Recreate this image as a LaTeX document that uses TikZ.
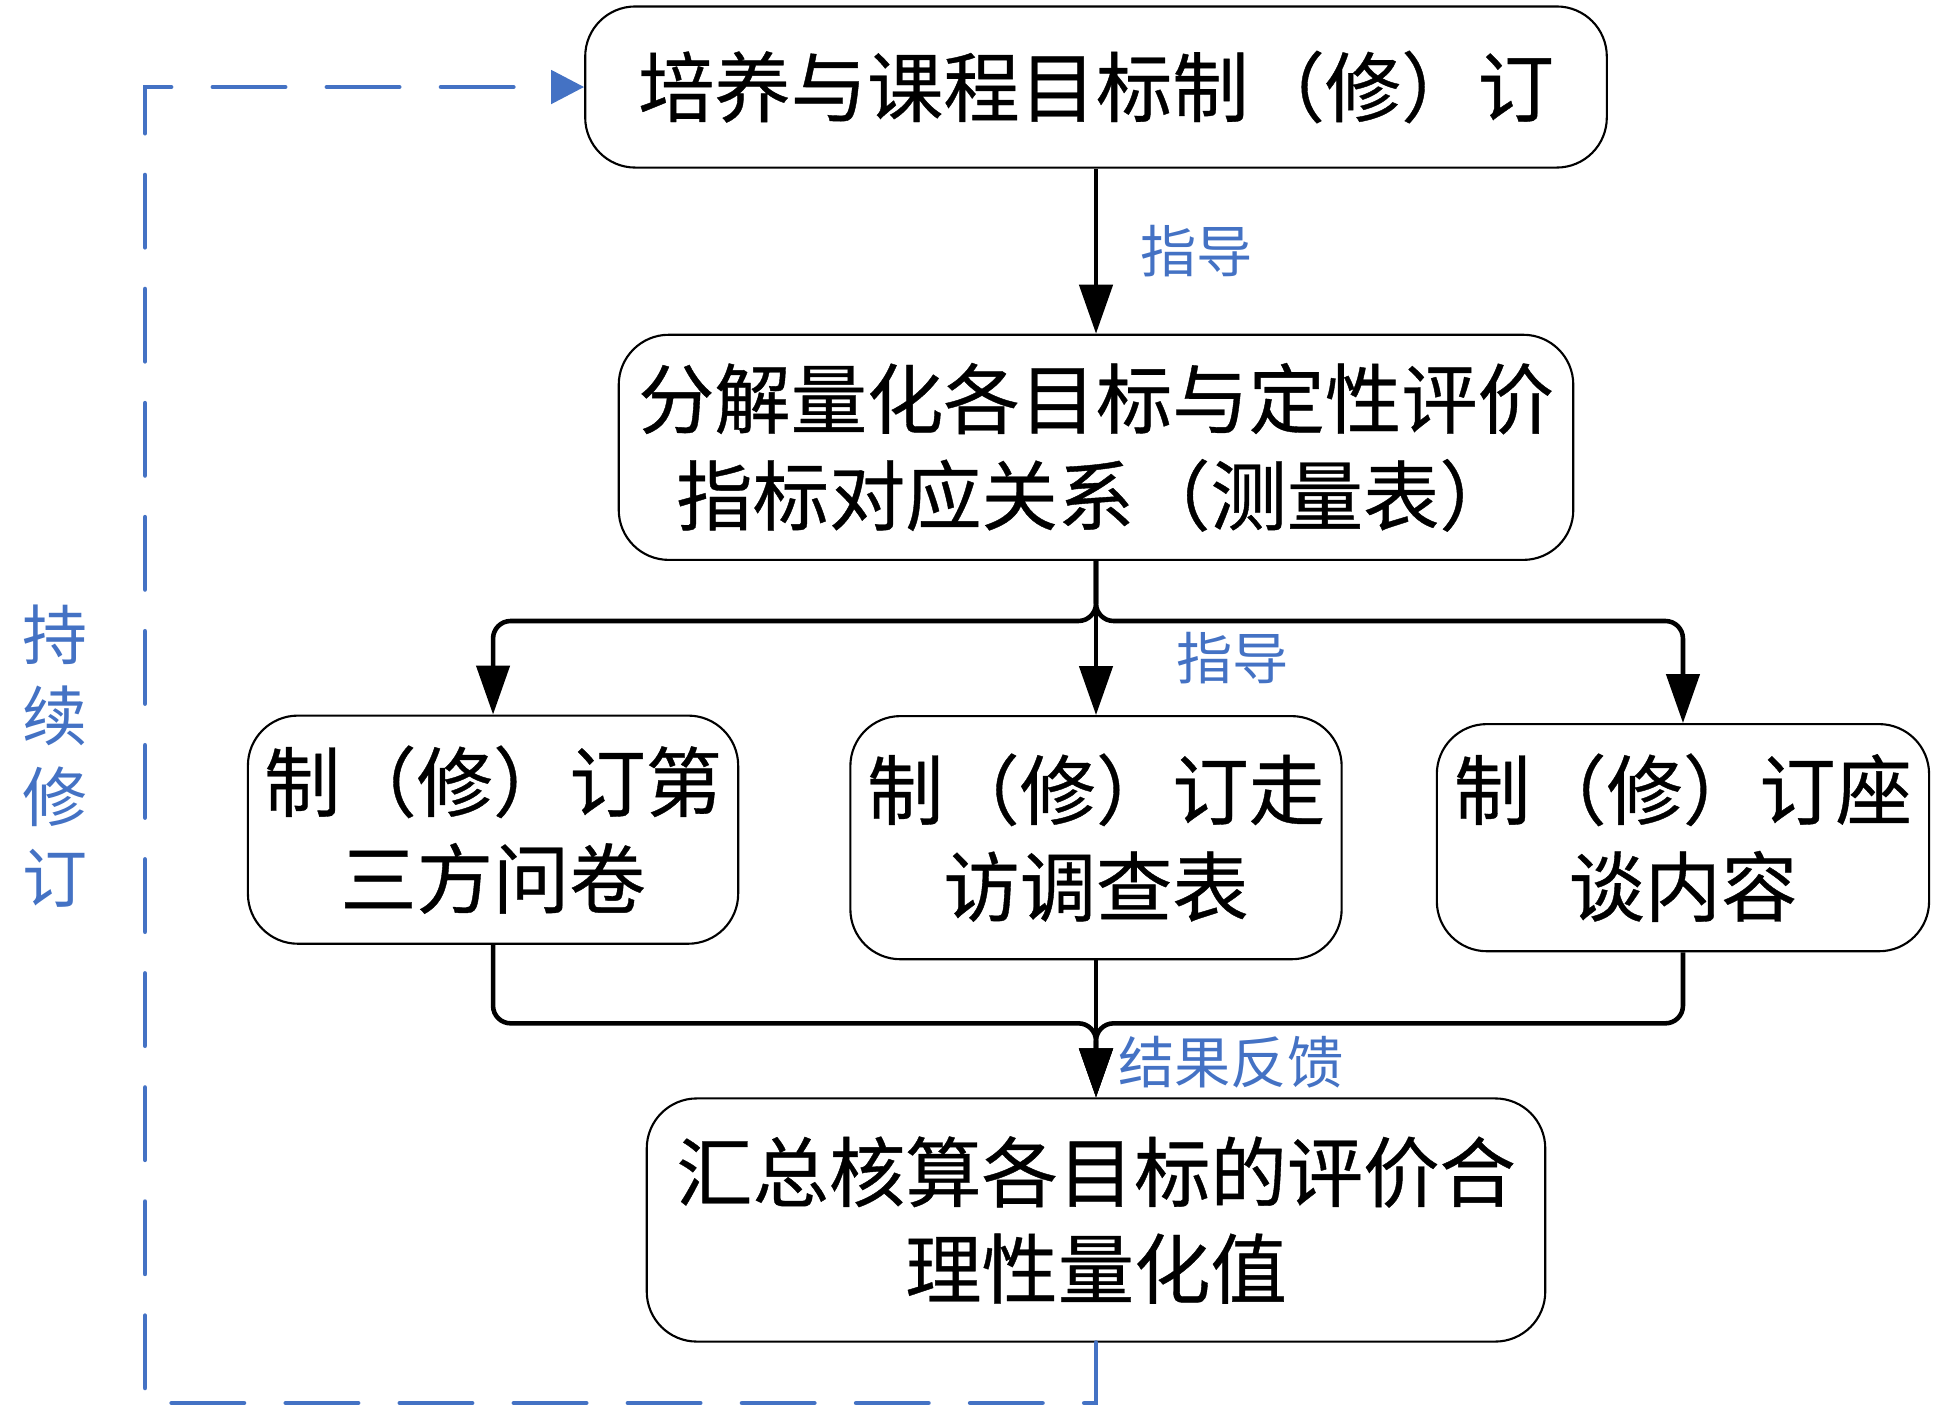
\documentclass[tikz,border=0pt]{standalone}
\usepackage{fontspec}
\setmainfont{Noto Sans CJK SC}
\newfontfamily\boxfont[FakeBold=0.5]{Noto Sans CJK SC}
\usetikzlibrary{arrows.meta, positioning}
\definecolor{noteblue}{HTML}{4472C4}

\begin{document}
\begin{tikzpicture}[
  x=0.01cm, y=-0.01cm,
  box/.style={rectangle, draw, line width=0.6pt, rounded corners=0.5cm, align=center, inner sep=0pt, font=\boxfont\fontsize{21.7pt}{27.5pt}\selectfont},
  arr/.style={-{Triangle[length=0.49cm, width=0.33cm]}, line width=1.3pt},
  hint/.style={font=\fontsize{16pt}{19pt}\selectfont, text=noteblue, inner sep=0pt},
  backline/.style={draw=noteblue, line width=1.4pt, dash pattern=on 0.72cm off 0.42cm, line cap=round, -{Triangle[length=0.33cm, width=0.33cm]}},
]
\useasboundingbox (0,0) rectangle (1943,1417);

\node[box, minimum width=10.21cm, minimum height=1.61cm] (aim) at (1096,87) {培养与课程目标制（修）订};
\node[box, below=1.65cm of aim, minimum width=9.54cm, minimum height=2.25cm] (measure) {分解量化各目标与定性评价\\指标对应关系（测量表）};

% three survey forms
\node[box, below=1.54cm of measure, minimum width=4.91cm, minimum height=2.43cm] (visit) {制（修）订走\\访调查表};
\node[box, left=1.1cm of visit, yshift=0.08cm, minimum width=4.9cm, minimum height=2.28cm] (third) {制（修）订第\\三方问卷};
\node[box, right=0.93cm of visit, minimum width=4.92cm, minimum height=2.27cm] (talk) {制（修）订座\\谈内容};

\node[box, below=1.37cm of visit, minimum width=8.98cm, minimum height=2.43cm] (sum) {汇总核算各目标的评价合\\理性量化值};

\draw[arr] (aim) -- node[hint, right=0.42cm] (guide1) {指导} (measure);

% split
\coordinate (split) at ([yshift=-0.6cm]measure.south);
\draw[arr, rounded corners=5pt] (measure.south) -- (split) -| (third.north);
\draw[arr, rounded corners=5pt] (measure.south) -- (split) -| (talk.north);
\draw[arr] (measure) -- node[hint, pos=0.63, right=0.78cm] (guide2) {指导} (visit);

% merge
\coordinate (merge) at ([yshift=0.74cm]sum.north);
\draw[arr, rounded corners=5pt] (third.south) |- (merge) -- (sum.north);
\draw[arr, rounded corners=5pt] (talk.south) |- (merge) -- (sum.north);
\draw[arr] (visit) -- node[hint, pos=0.74, right=0.2cm] (feedback) {结果反馈} (sum);

% feedback loop
\coordinate (lowturn) at (145,1403);
\draw[backline] (sum.south) |- (lowturn) |- (aim.west);
\node[hint, align=center, font=\fontsize{18.5pt}{23pt}\selectfont] (revise) at (55,756) {持\\续\\修\\订};

\end{tikzpicture}
\end{document}
